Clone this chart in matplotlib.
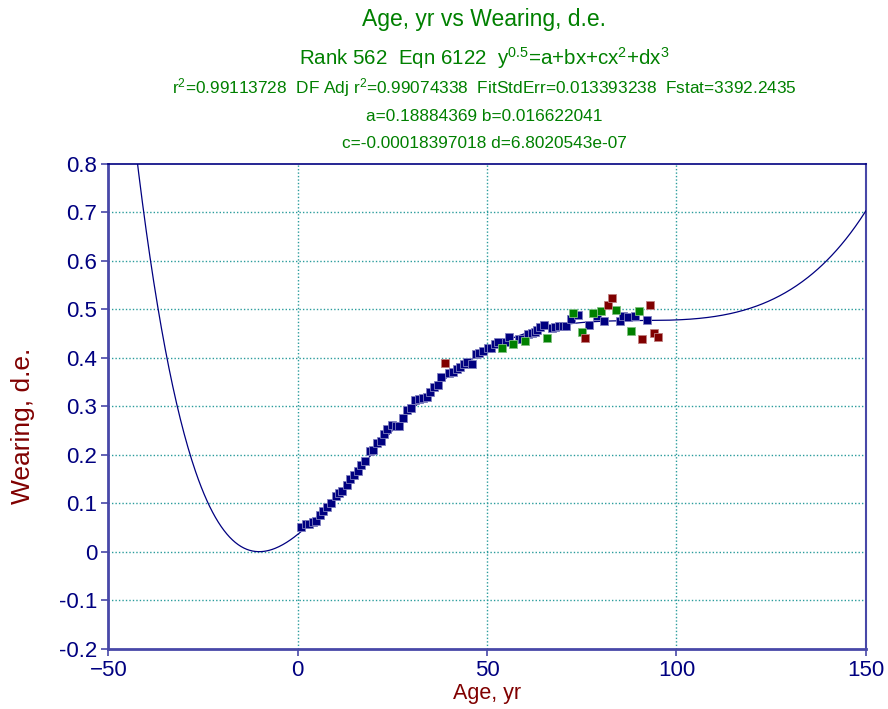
import numpy as np
import matplotlib
matplotlib.use("Agg")
from matplotlib import pyplot as plt

plt.rcParams['font.family'] = ['Liberation Sans', 'DejaVu Sans']
plt.rcParams['mathtext.fontset'] = 'custom'
plt.rcParams['mathtext.rm'] = 'Liberation Sans'
plt.rcParams['mathtext.it'] = 'Liberation Sans'

# fitted coefficients, sqrt(y) = a + b*x + c*x^2 + d*x^3
a_coef = 0.18884369
b_coef = 0.016622041
c_coef = -0.00018397018
d_coef = 6.8020543e-07

# measured points, grouped by how far they sit from the fit
age_main = [0.9, 2.2, 3.0, 4.1, 4.8, 5.9, 6.8, 7.7, 8.8, 10.0, 11.0, 11.8, 12.9, 13.9,
            14.9, 15.8, 16.8, 17.8, 19.1, 20.0, 21.0, 21.9, 22.8, 23.7, 25.0, 25.9,
            26.8, 27.7, 28.9, 29.9, 31.0, 32.1, 33.2, 34.1, 35.0, 36.0, 37.0, 37.8,
            40.0, 40.9, 42.0, 42.8, 43.9, 44.8, 45.9, 47.1, 47.9, 49.0, 50.2, 51.0,
            52.1, 53.0, 55.0, 55.9, 58.4, 59.3, 60.9, 61.8, 62.6, 63.3, 64.0, 65.0,
            67.1, 67.9, 69.1, 70.0, 70.8, 72.1, 74.1, 76.9, 78.9, 80.9, 85.1, 86.0,
            87.1, 89.0, 92.1]
wear_main = [0.050, 0.057, 0.057, 0.062, 0.063, 0.075, 0.083, 0.092, 0.101, 0.115, 0.122,
             0.125, 0.138, 0.149, 0.158, 0.167, 0.179, 0.188, 0.208, 0.209, 0.225, 0.228,
             0.243, 0.253, 0.261, 0.260, 0.260, 0.275, 0.292, 0.296, 0.312, 0.315, 0.318,
             0.320, 0.330, 0.340, 0.343, 0.360, 0.368, 0.371, 0.377, 0.382, 0.387, 0.392,
             0.388, 0.407, 0.411, 0.415, 0.421, 0.421, 0.429, 0.432, 0.433, 0.444, 0.439,
             0.439, 0.449, 0.452, 0.454, 0.457, 0.463, 0.468, 0.462, 0.463, 0.466, 0.466,
             0.466, 0.480, 0.488, 0.468, 0.487, 0.477, 0.477, 0.487, 0.485, 0.487, 0.479]

age_mid = [53.9, 56.9, 60.1, 65.9, 72.8, 75.1, 77.9, 80.1, 84.0, 87.9, 90.1]
wear_mid = [0.421, 0.429, 0.435, 0.440, 0.493, 0.453, 0.492, 0.497, 0.499, 0.455, 0.497]

age_out = [38.9, 75.9, 82.0, 82.9, 90.9, 92.9, 94.1, 95.1]
wear_out = [0.389, 0.440, 0.509, 0.523, 0.439, 0.508, 0.451, 0.442]

x_ticks = [-50, 0, 50, 100, 150]
y_ticks = [-0.2, -0.1, 0, 0.1, 0.2, 0.3, 0.4, 0.5, 0.6, 0.7, 0.8]
y_tick_labels = ['-0.2', '-0.1', '0', '0.1', '0.2', '0.3', '0.4', '0.5', '0.6', '0.7', '0.8']

NAVY = '#000080'
GREEN = '#008000'
MAROON = '#800000'
GRID = '#2a9c9c'
AXIS = '#4848a8'


def fit_curve(x):
    "Back-transforms the cubic in sqrt(y) to y"
    return (a_coef + b_coef * x + c_coef * x ** 2 + d_coef * x ** 3) ** 2


fig = plt.figure(figsize=(8.88, 7.09), dpi=100)
ax = fig.add_axes([0.122, 0.0852, 0.853, 0.6835])

xs = np.linspace(-50, 150, 800)
ax.plot(xs, fit_curve(xs), color=NAVY, lw=0.9, zorder=3)

ax.plot(age_main, wear_main, 's', color=NAVY, ms=5.5, mec='#8080c0', mew=0.6, zorder=4)
ax.plot(age_mid, wear_mid, 's', color=GREEN, ms=5.5, mec='#80c080', mew=0.6, zorder=4)
ax.plot(age_out, wear_out, 's', color=MAROON, ms=5.5, mec='#c08080', mew=0.6, zorder=4)

ax.set_xlim(-50, 150)
ax.set_ylim(-0.2, 0.8)
ax.set_xticks(x_ticks)
ax.set_yticks(y_ticks)
ax.set_yticklabels(y_tick_labels)
ax.tick_params(axis='both', direction='out', length=5, width=1.2, color=AXIS,
               labelcolor=NAVY, labelsize=16, pad=3)

for y in y_ticks[1:-1]:
    ax.axhline(y, color=GRID, lw=1.0, ls=(0, (1, 1.5)), zorder=1)
for x in x_ticks[1:-1]:
    ax.axvline(x, color=GRID, lw=1.0, ls=(0, (1, 1.5)), zorder=1)

ax.spines['left'].set_color(AXIS)
ax.spines['left'].set_linewidth(2)
ax.spines['bottom'].set_color(AXIS)
ax.spines['bottom'].set_linewidth(2)
ax.spines['top'].set_color(NAVY)
ax.spines['top'].set_linewidth(1.2)
ax.spines['right'].set_color(AXIS)
ax.spines['right'].set_linewidth(1.5)

ax.set_xlabel('Age, yr', color=MAROON, fontsize=15.5, labelpad=2)
fig.text(23 / 888, 0.40, 'Wearing, d.e.', color=MAROON, fontsize=19,
         rotation=90, ha='center', va='center')

cx = 0.545
fig.text(cx, 0.972, 'Age, yr vs Wearing, d.e.', color=GREEN, fontsize=16.5, ha='center', va='center')
fig.text(cx, 0.918, r'Rank 562  Eqn 6122  y$^{0.5}$=a+bx+cx$^{2}$+dx$^{3}$',
         color=GREEN, fontsize=14.8, ha='center', va='center')
fig.text(cx, 0.876, r'r$^{2}$=0.99113728  DF Adj r$^{2}$=0.99074338  FitStdErr=0.013393238  Fstat=3392.2435',
         color=GREEN, fontsize=12.4, ha='center', va='center')
fig.text(cx, 0.836, 'a=0.18884369 b=0.016622041', color=GREEN, fontsize=12.4, ha='center', va='center')
fig.text(cx, 0.797, 'c=-0.00018397018 d=6.8020543e-07', color=GREEN, fontsize=12.4, ha='center', va='center')

fig.savefig('out.png', dpi=100)
